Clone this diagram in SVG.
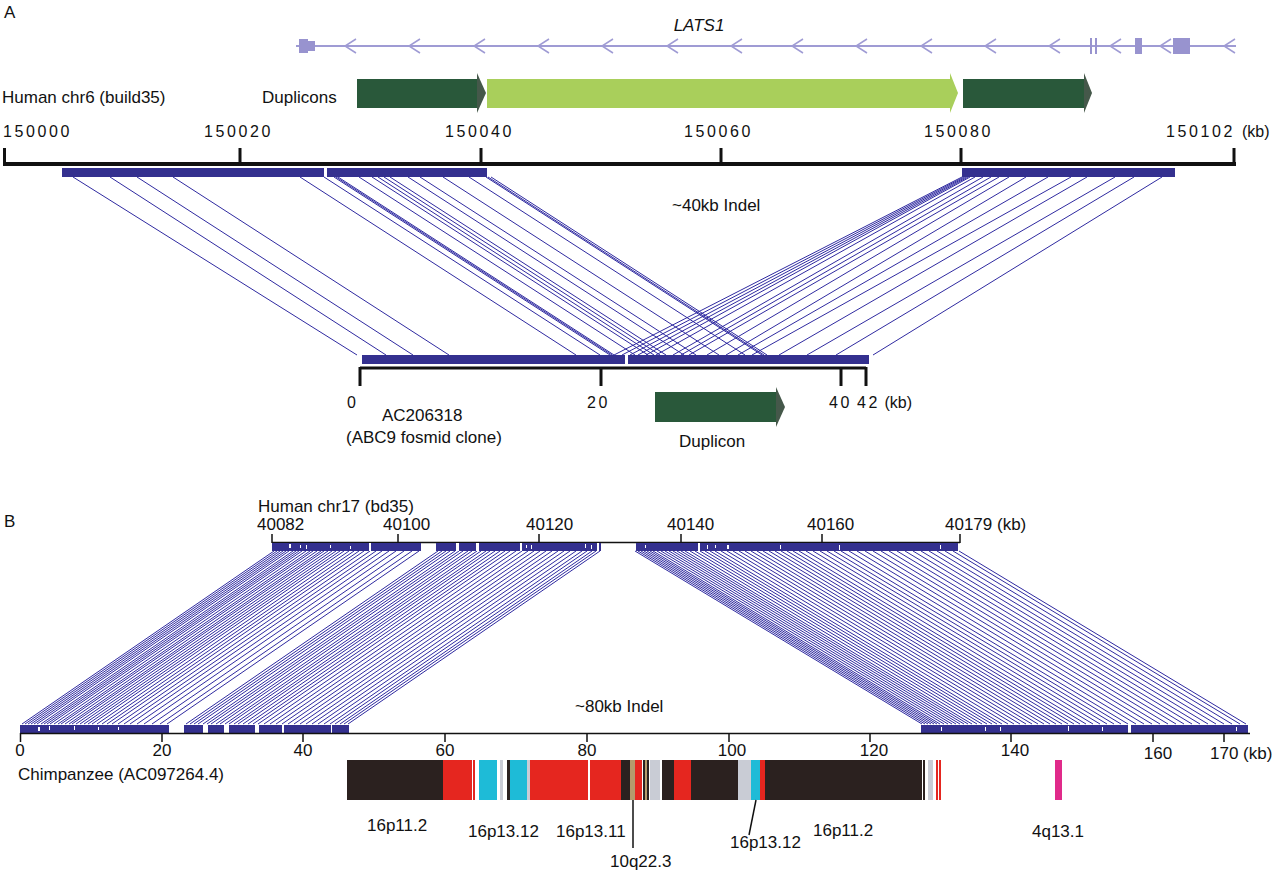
<svg xmlns="http://www.w3.org/2000/svg" width="1280" height="873" viewBox="0 0 1280 873">
<style>
text{font-family:"Liberation Sans",Arial,sans-serif;fill:#111}
.lbl{font-size:17px}
.sp{font-size:16px;letter-spacing:2.6px}
.num{font-size:16px}
.bnum{font-size:17px}
.gene{stroke:#9f9bd4;fill:none}
.gbox{fill:#9893cf}
.bar{fill:#34308f}
.ax{stroke:#111;fill:none}
.lnk{stroke:#2f2aa0;stroke-width:1;fill:none}
.wh{fill:#fff}
.dk{fill:#29583a}
.dkh{fill:#45584a}
.lt{fill:#a9cf5b}
.k{fill:#2b211f}.r{fill:#e5261f}.c{fill:#1ebbd7}.g{fill:#c9ccd5}.t{fill:#b59a6b}.p{fill:#e02a8a}
</style>
<rect width="1280" height="873" fill="#fff"/>

<g id="panelA-label"><text class="lbl" x="4" y="18">A</text></g>

<g id="gene-LATS1">
<text x="699" y="31" font-size="17" font-style="italic" text-anchor="middle">LATS1</text>
<line class="gene" x1="296" y1="46" x2="1236" y2="46" stroke-width="2"/>
<g class="gene" stroke-width="1.5">
<polyline points="356,39 345,46 356,53"/>
<polyline points="420,39 409,46 420,53"/>
<polyline points="485,39 474,46 485,53"/>
<polyline points="549,39 538,46 549,53"/>
<polyline points="613,39 602,46 613,53"/>
<polyline points="678,39 667,46 678,53"/>
<polyline points="742,39 731,46 742,53"/>
<polyline points="803,39 792,46 803,53"/>
<polyline points="867,39 856,46 867,53"/>
<polyline points="932,39 921,46 932,53"/>
<polyline points="996,39 985,46 996,53"/>
<polyline points="1060,39 1049,46 1060,53"/>
<polyline points="1121,39 1110,46 1121,53"/>
<polyline points="1171,39 1160,46 1171,53"/>
<polyline points="1235,39 1224,46 1235,53"/>
</g>
<rect class="gbox" x="299" y="39" width="9" height="14"/>
<rect class="gbox" x="308" y="41" width="7" height="10"/>
<rect class="gbox" x="1090" y="38" width="2" height="16"/>
<rect class="gbox" x="1095" y="38" width="2" height="16"/>
<rect class="gbox" x="1135" y="38" width="7" height="16"/>
<rect class="gbox" x="1173" y="38" width="17" height="16"/>
</g>

<g id="duplicons">
<text class="lbl" x="2" y="103">Human chr6 (build35)</text>
<text class="lbl" x="262" y="103">Duplicons</text>
<rect class="dk" x="357" y="79" width="121" height="29"/>
<polygon class="dkh" points="477,73 486,93 477,113"/>
<rect class="lt" x="487" y="79" width="464" height="29"/>
<polygon class="lt" points="950,73 958,93 950,113"/>
<rect class="dk" x="963" y="79" width="122" height="29"/>
<polygon class="dkh" points="1084,73 1092,93 1084,113"/>
</g>

<g id="human-chr6-axis">
<text class="sp" x="3" y="137">150000</text>
<text class="sp" x="204" y="137">150020</text>
<text class="sp" x="445" y="137">150040</text>
<text class="sp" x="684" y="137">150060</text>
<text class="sp" x="924" y="137">150080</text>
<text class="sp" x="1166" y="137">150102</text>
<text class="num" x="1242" y="137">(kb)</text>
<line class="ax" x1="3" y1="164" x2="1236" y2="164" stroke-width="4"/>
<g class="ax" stroke-width="3">
<line x1="4.5" y1="148" x2="4.5" y2="166"/>
<line x1="240" y1="148" x2="240" y2="166"/>
<line x1="481" y1="148" x2="481" y2="166"/>
<line x1="721" y1="148" x2="721" y2="166"/>
<line x1="961" y1="148" x2="961" y2="166"/>
<line x1="1234" y1="148" x2="1234" y2="166"/>
</g>
<rect class="bar" x="62" y="168" width="262" height="9"/>
<rect class="bar" x="327" y="168" width="160" height="9"/>
<rect class="bar" x="962" y="168" width="213" height="9"/>
</g>

<g id="indel-40kb"><text class="lbl" x="672" y="211">~40kb Indel</text></g>

<g id="AC206318">
<rect class="bar" x="362" y="355" width="263" height="9"/>
<rect class="bar" x="628" y="355" width="241" height="9"/>
<line class="ax" x1="360" y1="368" x2="866" y2="368" stroke-width="3"/>
<g class="ax" stroke-width="3">
<line x1="360" y1="367" x2="360" y2="386"/>
<line x1="601" y1="367" x2="601" y2="386"/>
<line x1="841" y1="367" x2="841" y2="386"/>
<line x1="866" y1="367" x2="866" y2="386"/>
</g>
<text class="sp" x="347" y="408">0</text>
<text class="sp" x="587" y="408">20</text>
<text class="sp" x="829" y="408">40</text>
<text x="857" y="408"><tspan class="sp">42</tspan><tspan class="num"> (kb)</tspan></text>
<text class="lbl" x="382" y="421">AC206318</text>
<text class="lbl" x="346" y="443">(ABC9 fosmid clone)</text>
<rect class="dk" x="655" y="392" width="122" height="30"/>
<polygon class="dkh" points="776,387 785,407 776,427"/>
<text class="lbl" x="679" y="447">Duplicon</text>
</g>

<g id="connectors">
<g class="lnk">
<line x1="73" y1="177" x2="357" y2="355"/>
<line x1="110" y1="177" x2="386" y2="355"/>
<line x1="137" y1="177" x2="413" y2="355"/>
<line x1="173" y1="177" x2="449" y2="355"/>
<line x1="300" y1="177" x2="576" y2="355"/>
<line x1="324" y1="177" x2="600" y2="355"/>
<line x1="334" y1="177" x2="610" y2="355"/>
<line x1="336" y1="177" x2="612" y2="355"/>
<line x1="338" y1="177" x2="614" y2="355"/>
<line x1="359" y1="177" x2="635" y2="355"/>
<line x1="372" y1="177" x2="648" y2="355"/>
<line x1="378" y1="177" x2="654" y2="355"/>
<line x1="384" y1="177" x2="660" y2="355"/>
<line x1="390" y1="177" x2="666" y2="355"/>
<line x1="408" y1="177" x2="684" y2="355"/>
<line x1="420" y1="177" x2="696" y2="355"/>
<line x1="443" y1="177" x2="719" y2="355"/>
<line x1="469" y1="177" x2="745" y2="355"/>
<line x1="486" y1="177" x2="762" y2="355"/>
<line x1="488" y1="177" x2="764" y2="355"/>
<line x1="491" y1="177" x2="767" y2="355"/>
<line x1="962" y1="177" x2="614" y2="355"/>
<line x1="964" y1="177" x2="622" y2="355"/>
<line x1="966" y1="177" x2="630" y2="355"/>
<line x1="968" y1="177" x2="638" y2="355"/>
<line x1="970" y1="177" x2="646" y2="355"/>
<line x1="975" y1="177" x2="656" y2="355"/>
<line x1="983" y1="177" x2="673" y2="355"/>
<line x1="991" y1="177" x2="681" y2="355"/>
<line x1="999" y1="177" x2="689" y2="355"/>
<line x1="1009" y1="177" x2="707" y2="355"/>
<line x1="1026" y1="177" x2="726" y2="355"/>
<line x1="1048" y1="177" x2="738" y2="355"/>
<line x1="1071" y1="177" x2="752" y2="355"/>
<line x1="1087" y1="177" x2="779" y2="355"/>
<line x1="1115" y1="177" x2="807" y2="355"/>
<line x1="1134" y1="177" x2="836" y2="355"/>
<line x1="1162" y1="177" x2="873" y2="355"/>
</g>
<path class="lnk" d="M274,551l-252,173M277,551l-252,173M280,551l-252,173M283,551l-252,173M286,551l-252,173M289,551l-252,173M293,551l-252,173M296,551l-252,173M299,551l-252,173M302,551l-252,173M306,551l-252,173M310,551l-252,173M313,551l-252,173M317,551l-252,173M321,551l-252,173M324,551l-252,173M328,551l-252,173M332,551l-252,173M336,551l-252,173M340,551l-252,173M344,551l-252,173M349,551l-252,173M354,551l-252,173M359,551l-252,173M364,551l-252,173M370,551l-252,173M376,551l-252,173M382,551l-252,173M389,551l-252,173M396,551l-252,173M404,551l-252,173M412,551l-252,173M419,551l-252,173M438,551l-252,173M442,551l-252,173M446,551l-252,173M450,551l-252,173M455,551l-252,173M459,551l-252,173M463,551l-252,173M468,551l-252,173M472,551l-252,173M477,551l-252,173M481,551l-252,173M486,551l-252,173M490,551l-252,173M495,551l-252,173M500,551l-252,173M505,551l-252,173M510,551l-252,173M516,551l-252,173M522,551l-252,173M528,551l-252,173M534,551l-252,173M540,551l-252,173M546,551l-252,173M552,551l-252,173M558,551l-252,173M564,551l-252,173M570,551l-252,173M576,551l-252,173M582,551l-252,173M587,551l-252,173M592,551l-252,173M596,551l-252,173M600,551l-252,173"/>
<path class="lnk" d="M635,551l287,173M638,551l287,173M641,551l287,173M644,551l287,173M647,551l287,173M650,551l287,173M653,551l287,173M657,551l287,173M661,551l287,173M665,551l287,173M669,551l287,173M673,551l287,173M677,551l287,173M681,551l287,173M685,551l287,173M690,551l287,173M695,551l287,173M700,551l287,173M705,551l287,173M710,551l287,173M715,551l287,173M721,551l287,173M727,551l287,173M733,551l287,173M739,551l287,173M745,551l287,173M751,551l287,173M757,551l287,173M763,551l287,173M769,551l287,173M775,551l287,173M781,551l287,173M787,551l287,173M793,551l287,173M799,551l287,173M806,551l287,173M813,551l287,173M820,551l287,173M827,551l287,173M834,551l287,173M841,551l287,173M849,551l287,173M857,551l287,173M865,551l287,173M873,551l287,173M881,551l287,173M889,551l287,173M897,551l287,173M905,551l287,173M913,551l287,173M921,551l287,173M929,551l287,173M937,551l287,173M945,551l287,173M953,551l287,173M959,551l287,173"/>
</g>

<g id="panelB-label"><text class="lbl" x="4" y="527">B</text></g>

<g id="human-chr17">
<text class="lbl" x="258" y="512">Human chr17 (bd35)</text>
<text class="lbl" x="257" y="530">40082</text>
<text class="lbl" x="383" y="530">40100</text>
<text class="lbl" x="526" y="530">40120</text>
<text class="lbl" x="667" y="530">40140</text>
<text class="lbl" x="807" y="530">40160</text>
<text class="lbl" x="945" y="530">40179 (kb)</text>
<line class="ax" x1="272" y1="542.5" x2="960" y2="542.5" stroke-width="1.5"/>
<g class="ax" stroke-width="1.5">
<line x1="272" y1="534" x2="272" y2="543"/>
<line x1="398" y1="534" x2="398" y2="543"/>
<line x1="539" y1="534" x2="539" y2="543"/>
<line x1="681" y1="534" x2="681" y2="543"/>
<line x1="822" y1="534" x2="822" y2="543"/>
<line x1="960" y1="534" x2="960" y2="543"/>
</g>
<rect class="bar" x="272" y="543" width="149" height="8"/>
<rect class="bar" x="436" y="543" width="165" height="8"/>
<rect class="bar" x="636" y="543" width="322" height="8"/>
<g class="wh">
<rect x="289" y="544" width="2" height="4"/><rect x="300" y="545" width="1" height="3"/><rect x="306" y="545" width="1" height="4"/><rect x="330" y="545" width="1" height="3"/><rect x="350" y="546" width="1" height="3"/><rect x="369" y="543" width="2" height="8"/>
<rect x="456" y="543" width="3" height="8"/><rect x="476" y="543" width="3" height="8"/><rect x="520" y="543" width="2" height="8"/><rect x="526" y="545" width="1" height="3"/><rect x="531" y="545" width="1" height="4"/><rect x="585" y="544" width="1" height="4"/><rect x="591" y="545" width="1" height="4"/><rect x="597" y="543" width="2" height="8"/>
<rect x="645" y="545" width="1" height="3"/><rect x="698" y="543" width="2" height="8"/><rect x="707" y="545" width="1" height="4"/><rect x="715" y="545" width="1" height="3"/><rect x="727" y="545" width="2" height="4"/><rect x="780" y="545" width="1" height="4"/><rect x="839" y="545" width="1" height="5"/><rect x="940" y="545" width="1" height="4"/>
</g>
</g>

<g id="indel-80kb"><text class="lbl" x="575" y="712">~80kb Indel</text></g>

<g id="chimp-axis">
<rect class="bar" x="20" y="725" width="149" height="8"/>
<rect class="bar" x="184" y="725" width="19" height="8"/>
<rect class="bar" x="208" y="725" width="16" height="8"/>
<rect class="bar" x="229" y="725" width="26" height="8"/>
<rect class="bar" x="259" y="725" width="23" height="8"/>
<rect class="bar" x="284" y="725" width="47" height="8"/>
<rect class="bar" x="332" y="725" width="17" height="8"/>
<rect class="bar" x="921" y="725" width="207" height="8"/>
<rect class="bar" x="1131" y="725" width="117" height="8"/>
<g class="wh">
<rect x="38" y="727" width="2" height="4"/><rect x="49" y="726" width="1" height="4"/><rect x="74" y="726" width="1" height="4"/><rect x="98" y="727" width="1" height="3"/><rect x="118" y="727" width="1" height="3"/>
<rect x="941" y="727" width="1" height="4"/><rect x="985" y="727" width="1" height="4"/><rect x="1000" y="727" width="1" height="4"/><rect x="1068" y="726" width="1" height="5"/><rect x="1102" y="727" width="1" height="4"/><rect x="1236" y="727" width="1" height="4"/>
</g>
<line class="ax" x1="20" y1="733.5" x2="1250" y2="733.5" stroke-width="1.5"/>
<g class="ax" stroke-width="1.5">
<line x1="20.5" y1="733" x2="20.5" y2="742"/>
<line x1="162" y1="733" x2="162" y2="742"/>
<line x1="303" y1="733" x2="303" y2="742"/>
<line x1="445" y1="733" x2="445" y2="742"/>
<line x1="587" y1="733" x2="587" y2="742"/>
<line x1="729" y1="733" x2="729" y2="742"/>
<line x1="870" y1="733" x2="870" y2="742"/>
<line x1="1011" y1="733" x2="1011" y2="742"/>
<line x1="1153" y1="733" x2="1153" y2="742"/>
<line x1="1224" y1="733" x2="1224" y2="742"/>
</g>
<g class="bnum" text-anchor="middle">
<text x="20" y="756">0</text>
<text x="162" y="756">20</text>
<text x="303" y="756">40</text>
<text x="445" y="756">60</text>
<text x="587" y="756">80</text>
<text x="732" y="756">100</text>
<text x="874" y="756">120</text>
<text x="1015" y="756">140</text>
<text x="1158" y="759">160</text>
</g>
<text class="bnum" x="1210" y="759">170 (kb)</text>
<text class="lbl" x="18" y="780">Chimpanzee (AC097264.4)</text>
</g>

<g id="chimp-segments">
<rect class="k" x="347" y="760" width="96" height="40"/>
<rect class="r" x="443" y="760" width="29" height="40"/>
<rect class="r" x="473" y="760" width="2" height="40"/>
<rect class="c" x="479" y="760" width="18" height="40"/>
<rect class="g" x="500" y="760" width="3" height="40"/>
<rect class="k" x="507" y="760" width="3" height="40"/>
<rect class="c" x="510" y="760" width="17" height="40"/>
<rect class="g" x="527" y="760" width="3" height="40"/>
<rect class="r" x="530" y="760" width="58" height="40"/>
<rect class="r" x="590" y="760" width="31" height="40"/>
<rect class="k" x="621" y="760" width="9" height="40"/>
<rect class="t" x="630" y="760" width="5" height="40"/>
<rect class="r" x="635" y="760" width="7" height="40"/>
<rect class="k" x="643" y="760" width="2" height="40"/>
<rect class="t" x="645" y="760" width="2" height="40"/>
<rect class="k" x="647" y="760" width="2" height="40"/>
<rect class="g" x="650" y="760" width="10" height="40"/>
<rect class="k" x="662" y="760" width="12" height="40"/>
<rect class="r" x="674" y="760" width="17" height="40"/>
<rect class="k" x="691" y="760" width="47" height="40"/>
<rect class="g" x="738" y="760" width="13" height="40"/>
<rect class="c" x="751" y="760" width="9" height="40"/>
<rect class="r" x="760" y="760" width="5" height="40"/>
<rect class="k" x="765" y="760" width="157" height="40"/>
<rect class="k" x="923" y="760" width="2" height="40"/>
<rect class="g" x="928" y="760" width="5" height="40"/>
<rect class="r" x="936" y="760" width="2" height="40"/>
<rect class="r" x="939" y="760" width="2" height="40"/>
<rect class="p" x="1055" y="760" width="7" height="40"/>
</g>

<g id="chimp-labels">
<text class="lbl" x="367" y="831">16p11.2</text>
<text class="lbl" x="468" y="837">16p13.12</text>
<text class="lbl" x="556" y="837">16p13.11</text>
<line x1="633" y1="800" x2="633" y2="848" stroke="#111" stroke-width="1.5"/>
<text class="lbl" x="610" y="867">10q22.3</text>
<line x1="756" y1="800" x2="749" y2="835" stroke="#111" stroke-width="1.5"/>
<text class="lbl" x="730" y="848">16p13.12</text>
<text class="lbl" x="813" y="836">16p11.2</text>
<text class="lbl" x="1032" y="837">4q13.1</text>
</g>
</svg>
